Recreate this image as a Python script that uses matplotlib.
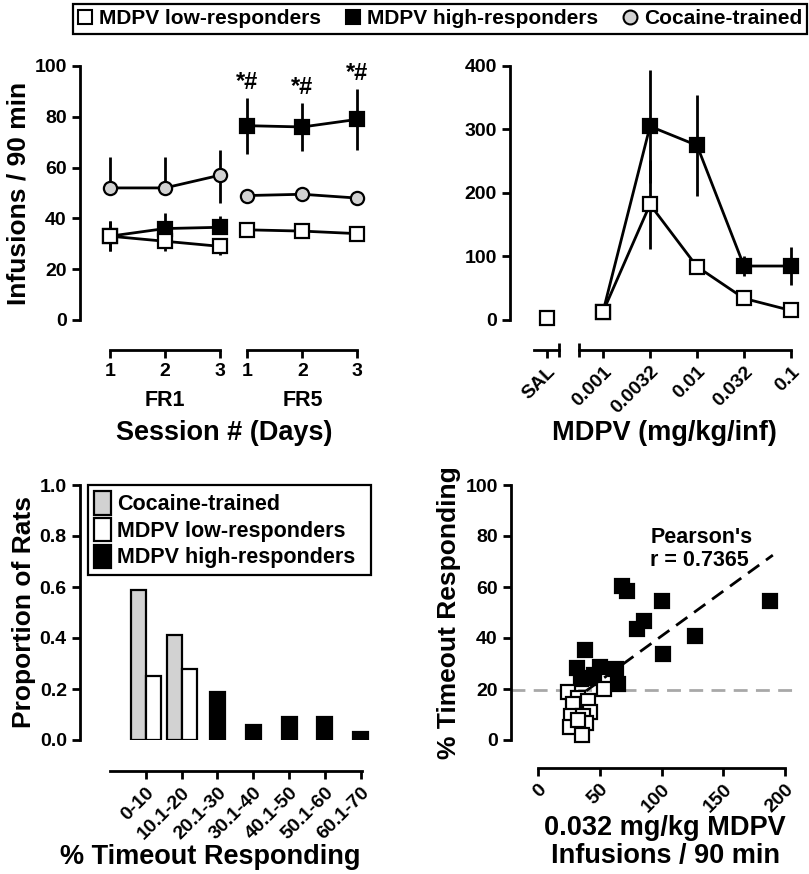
import numpy as np
import matplotlib
matplotlib.use('Agg')
import matplotlib.pyplot as plt
from matplotlib.lines import Line2D
from matplotlib.patches import Patch

plt.rcParams['font.family'] = ['Liberation Sans', 'DejaVu Sans']
plt.rcParams['font.weight'] = 'bold'
plt.rcParams['axes.labelweight'] = 'bold'

GREY = '#d2d2d2'
LW = 2.0
MS = 9.5

# ---- panel A: acquisition sessions
fr1_x = [1, 2, 3]
fr5_x = [3.5, 4.5, 5.5]
session_labels = ['1', '2', '3']

coc_fr1 = [52, 52, 57]
coc_fr1_lo = [0, 0, 11]
coc_fr1_hi = [12, 12, 10]
coc_fr5 = [49, 49.5, 48]
coc_fr5_err = [1, 1, 1]

low_fr1 = [33, 31, 29]
low_fr1_lo = [6, 4, 3.5]
low_fr1_hi = [6, 0, 0]
low_fr5 = [35.5, 35, 34]
low_fr5_err = [1, 1, 1]

high_fr1 = [33, 36, 36.5]
high_fr1_lo = [6, 0, 0]
high_fr1_hi = [6, 6, 4.5]
high_fr5 = [76.5, 76, 79]
high_fr5_err = [11, 9.5, 12]
sig_marks = ['*#', '*#', '*#']

# ---- panel B: dose response
sal_x = [-0.2]
dose_x = [1, 2, 3, 4, 5]
dose_labels = ['0.001', '0.0032', '0.01', '0.032', '0.1']
sal_low = [3]
dose_low = [13, 182, 84, 34, 15]
dose_low_err = [2, 70, 5, 4, 3]
dose_high = [13, 305, 275, 85, 85]
dose_high_err = [2, 89, 80, 15, 30]

# ---- panel C: distribution of timeout responding
bins = ['0-10', '10.1-20', '20.1-30', '30.1-40', '40.1-50', '50.1-60', '60.1-70']
coc_prop = [0.59, 0.41]
low_prop = [0.25, 0.28]
high_prop = [0.19, 0.06, 0.09, 0.09, 0.03]

# ---- panel D: correlation
high_inf = [68, 72, 100, 188, 86, 80, 127, 101, 38, 31.5, 50, 63, 65, 34.6, 42.7, 45]
high_to = [60.4, 58.5, 54.5, 54.5, 46.7, 43.4, 40.8, 33.7, 35.3, 28.4, 28.8, 27.7, 22, 23.8, 24.2, 25.5]
low_inf = [24.5, 53, 32, 40.5, 28.6, 42, 26.5, 36, 38.6, 25.7, 35.4, 32]
low_to = [19, 19.9, 16.6, 15.3, 14, 11, 9.4, 9.4, 6.5, 5.2, 2, 7.7]
fit_x = [39, 190]
fit_y = [19.3, 72.5]
cutoff = 19.5


def style(ax):
    for s in ['top', 'right']:
        ax.spines[s].set_visible(False)
    for s in ['left', 'bottom']:
        ax.spines[s].set_linewidth(LW)
    ax.tick_params(width=LW, length=6, labelsize=14)


def bracket(ax, lo, hi, ticks, labels, offset, caps=None, rot=0):
    a = ax.twiny()
    a.set_xlim(ax.get_xlim())
    for s in ['top', 'right', 'left']:
        a.spines[s].set_visible(False)
    a.spines['bottom'].set_visible(True)
    a.spines['bottom'].set_linewidth(LW)
    a.spines['bottom'].set_position(('outward', offset))
    a.spines['bottom'].set_bounds(lo, hi)
    a.xaxis.set_ticks_position('bottom')
    a.set_xticks(ticks)
    if rot:
        a.set_xticklabels(labels, rotation=rot, ha='right', rotation_mode='anchor')
    else:
        a.set_xticklabels(labels)
    a.tick_params(width=LW, length=6, labelsize=14)
    if caps:
        a.set_xticks(caps, minor=True)
        a.tick_params(which='minor', direction='inout', length=10, width=LW)
    a.patch.set_visible(False)
    return a


fig = plt.figure(figsize=(8.09, 8.74), dpi=100)

# ================= A
axA = fig.add_axes([80 / 809, 1 - 320 / 874, 295 / 809, 254 / 874])
axA.set_xlim(0.455, 5.82)
axA.set_ylim(0, 100)
style(axA)
axA.spines['bottom'].set_visible(False)
axA.set_xticks([])
axA.set_yticks([0, 20, 40, 60, 80, 100])

common = dict(color='black', lw=LW, ms=MS, mew=1.6, mec='black', capsize=0,
              elinewidth=LW, clip_on=False)
axA.errorbar(fr1_x, coc_fr1, yerr=[coc_fr1_lo, coc_fr1_hi], marker='o', mfc=GREY, **common)
axA.errorbar(fr5_x, coc_fr5, yerr=coc_fr5_err, marker='o', mfc=GREY, **common)
axA.errorbar(fr1_x, high_fr1, yerr=[high_fr1_lo, high_fr1_hi], marker='s', mfc='black', **common)
axA.errorbar(fr5_x, high_fr5, yerr=high_fr5_err, marker='s', mfc='black', **common)
axA.errorbar(fr1_x, low_fr1, yerr=[low_fr1_lo, low_fr1_hi], marker='s', mfc='white', **common)
axA.errorbar(fr5_x, low_fr5, yerr=low_fr5_err, marker='s', mfc='white', **common)
for x, y, e, m in zip(fr5_x, high_fr5, high_fr5_err, sig_marks):
    axA.annotate(m, (x, y + e), xytext=(0, 11), textcoords='offset points',
                 ha='center', va='center', fontsize=17, fontweight='bold')
axA.set_ylabel('Infusions / 90 min', fontsize=19, labelpad=3)

bracket(axA, fr1_x[0], fr1_x[-1], fr1_x, session_labels, 21.6)
bracket(axA, fr5_x[0], fr5_x[-1], fr5_x, session_labels, 21.6)
axA.text(np.mean(fr1_x), -0.315, 'FR1', transform=axA.get_xaxis_transform(),
         ha='center', va='center', fontsize=15.5, fontweight='bold')
axA.text(np.mean(fr5_x), -0.315, 'FR5', transform=axA.get_xaxis_transform(),
         ha='center', va='center', fontsize=15.5, fontweight='bold')
axA.text(0.49, -0.445, 'Session # (Days)', transform=axA.transAxes,
         ha='center', va='center', fontsize=19.5, fontweight='bold')

# ================= B
axB = fig.add_axes([510 / 809, 1 - 320 / 874, 299 / 809, 254 / 874])
axB.set_xlim(-0.979, 5.383)
axB.set_ylim(0, 400)
style(axB)
axB.spines['bottom'].set_visible(False)
axB.set_xticks([])
axB.set_yticks([0, 100, 200, 300, 400])
axB.errorbar(dose_x, dose_high, yerr=dose_high_err, marker='s', mfc='black', **common)
axB.errorbar(dose_x, dose_low, yerr=dose_low_err, marker='s', mfc='white', **common)
axB.plot(sal_x, sal_low, ls='none', marker='s', mfc='white', mec='black', ms=MS, mew=1.6,
         clip_on=False)
bracket(axB, sal_x[0] - 0.27, sal_x[0] + 0.26, sal_x, ['SAL'], 21.6,
        caps=[sal_x[0] + 0.26], rot=45)
bracket(axB, 0.49, dose_x[-1], dose_x, dose_labels, 21.6, caps=[0.49], rot=45)
axB.text(0.518, -0.445, 'MDPV (mg/kg/inf)', transform=axB.transAxes,
         ha='center', va='center', fontsize=19.5, fontweight='bold')

# ================= C
axC = fig.add_axes([80 / 809, 1 - 740 / 874, 295 / 809, 255 / 874])
axC.set_xlim(-1.84, 6.40)
axC.set_ylim(0, 1.0)
style(axC)
bw = 0.42
xi = np.arange(len(bins))
axC.bar(xi[:2] - bw / 2, coc_prop, bw, color=GREY, edgecolor='black', lw=1.6)
axC.bar(xi[:2] + bw / 2, low_prop, bw, color='white', edgecolor='black', lw=1.6)
axC.bar(xi[2:], high_prop, bw, color='black', edgecolor='black', lw=1.6)
axC.set_yticks([0, 0.2, 0.4, 0.6, 0.8, 1.0])
axC.set_yticklabels(['0.0', '0.2', '0.4', '0.6', '0.8', '1.0'])
axC.spines['bottom'].set_position(('outward', 22.3))
axC.spines['bottom'].set_bounds(-1.0, 6.03)
axC.set_xticks(xi)
axC.set_xticklabels(bins, rotation=45, ha='right', rotation_mode='anchor')
axC.set_ylabel('Proportion of Rats', fontsize=19, labelpad=3)
axC.text(0.44, -0.459, '% Timeout Responding', transform=axC.transAxes,
         ha='center', va='center', fontsize=19.5, fontweight='bold')
hC = [Patch(facecolor=GREY, edgecolor='black', lw=1.6),
      Patch(facecolor='white', edgecolor='black', lw=1.6),
      Patch(facecolor='black', edgecolor='black', lw=1.6)]
legC = axC.legend(hC, ['Cocaine-trained', 'MDPV low-responders', 'MDPV high-responders'],
                  loc='upper left', bbox_to_anchor=(0.027, 0.663, 0.959, 0.337), mode='expand',
                  fontsize=15.5, handlelength=0.75, handleheight=1.3, handletextpad=0.3,
                  labelspacing=0.12, borderpad=0.3, borderaxespad=0, fancybox=False,
                  edgecolor='black', framealpha=1)
legC.get_frame().set_linewidth(1.6)

# ================= D
axD = fig.add_axes([511 / 809, 1 - 740 / 874, 289 / 809, 255 / 874])
axD.set_xlim(-21.9, 212)
axD.set_ylim(0, 100)
style(axD)
axD.axhline(cutoff, color='#a8a8a8', lw=2, dashes=(5, 3), zorder=1)
axD.plot(high_inf, high_to, ls='none', marker='s', mfc='black', mec='black', ms=MS, mew=1.6,
         zorder=2, clip_on=False)
axD.plot(low_inf, low_to, ls='none', marker='s', mfc='white', mec='black', ms=MS, mew=1.6,
         zorder=3, clip_on=False)
axD.plot(fit_x, fit_y, color='black', lw=2, dashes=(5, 3), zorder=4)
axD.spines['bottom'].set_position(('outward', 20))
axD.spines['bottom'].set_bounds(0, 200)
axD.set_xticks([0, 50, 100, 150, 200])
axD.set_xticklabels(['0', '50', '100', '150', '200'], rotation=45, ha='right',
                    rotation_mode='anchor')
axD.set_yticks([0, 20, 40, 60, 80, 100])
axD.set_ylabel('% Timeout Responding', fontsize=19, labelpad=3)
axD.text(90.7, 83.5, "Pearson's\nr = 0.7365", ha='left', va='top', fontsize=15.5,
         fontweight='bold', linespacing=1.1)
axD.text(0.533, -0.4, '0.032 mg/kg MDPV\nInfusions / 90 min', transform=axD.transAxes,
         ha='center', va='center', fontsize=19.5, fontweight='bold', linespacing=1.1)

# ================= top legend
hTop = [Line2D([], [], ls='none', marker='s', mfc='white', mec='black', ms=10, mew=1.5),
        Line2D([], [], ls='none', marker='s', mfc='black', mec='black', ms=10, mew=1.5),
        Line2D([], [], ls='none', marker='o', mfc=GREY, mec='black', ms=10, mew=1.5)]
legTop = fig.legend(hTop, ['MDPV low-responders', 'MDPV high-responders', 'Cocaine-trained'],
                    loc='center', ncol=3, bbox_to_anchor=(77 / 809, 1 - 37 / 874, 726 / 809, 36 / 874),
                    fontsize=15, handlelength=0.7, handletextpad=0.3, columnspacing=1.2,
                    borderpad=0.25, fancybox=False, edgecolor='black', framealpha=1)
legTop.get_frame().set_linewidth(1.6)

fig.savefig('out.png', dpi=100)
